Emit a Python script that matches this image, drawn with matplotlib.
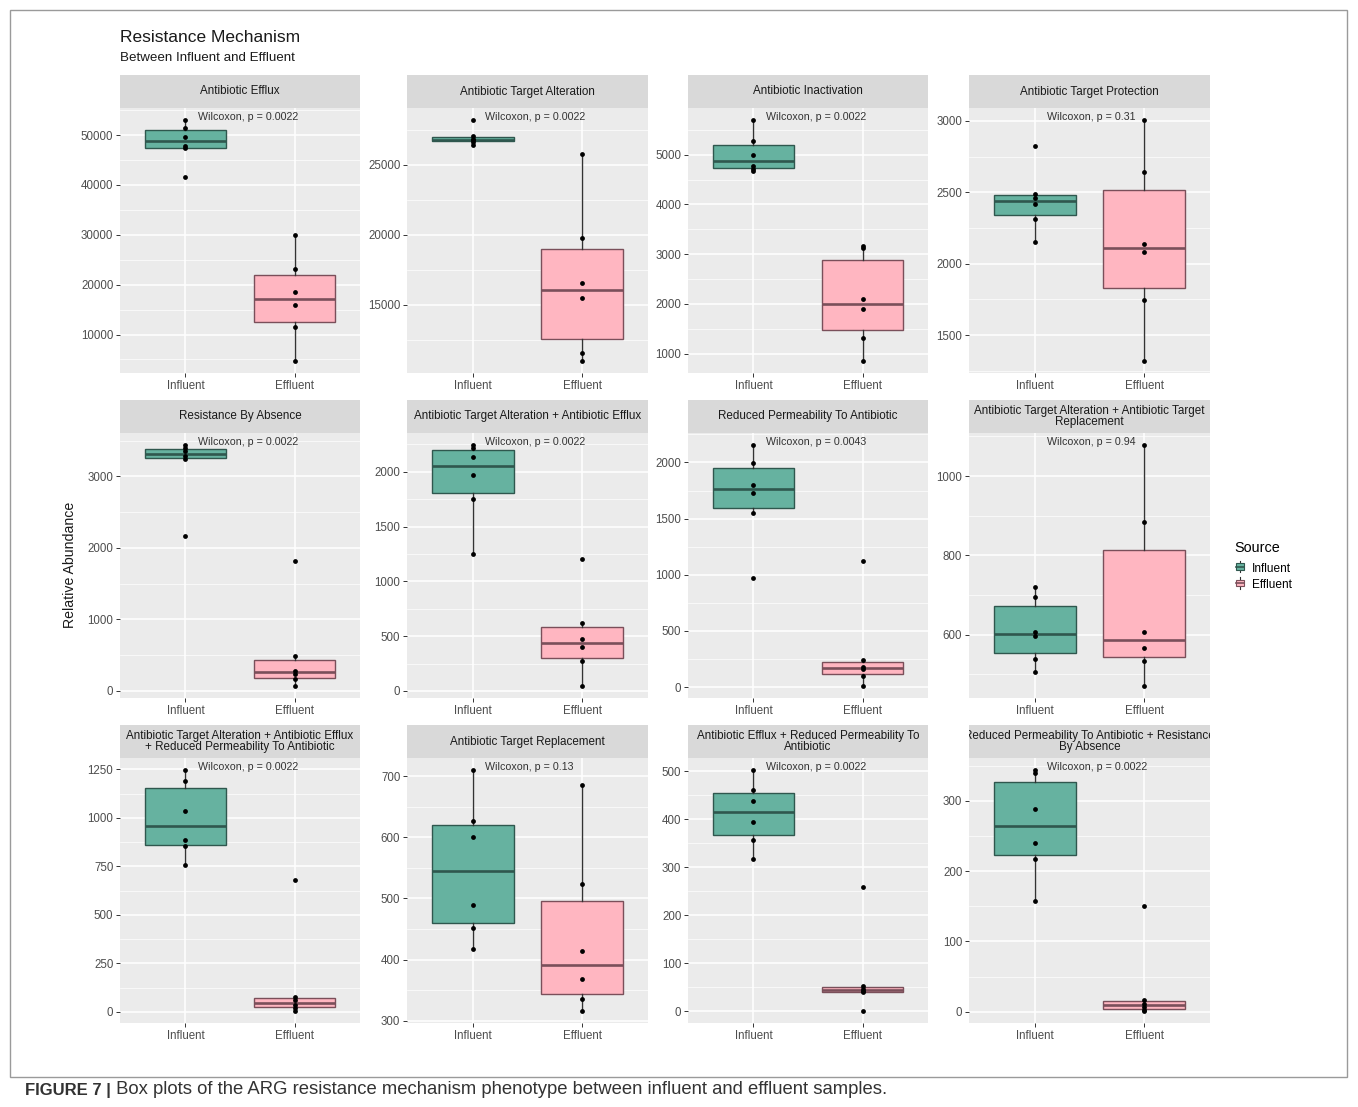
import numpy as np
import matplotlib.pyplot as plt
from matplotlib.patches import Rectangle
from matplotlib.lines import Line2D
from matplotlib.legend_handler import HandlerBase
from matplotlib.ticker import MultipleLocator, StrMethodFormatter

plt.rcParams['font.family'] = ['Liberation Sans', 'DejaVu Sans']

# relative abundance per resistance mechanism, six samples per source
mechanisms = [
    'Antibiotic Efflux',
    'Antibiotic Target Alteration',
    'Antibiotic Inactivation',
    'Antibiotic Target Protection',
    'Resistance By Absence',
    'Antibiotic Target Alteration + Antibiotic Efflux',
    'Reduced Permeability To Antibiotic',
    'Antibiotic Target Alteration + Antibiotic Target\nReplacement',
    'Antibiotic Target Alteration + Antibiotic Efflux\n+ Reduced Permeability To Antibiotic',
    'Antibiotic Target Replacement',
    'Antibiotic Efflux + Reduced Permeability To\nAntibiotic',
    'Reduced Permeability To Antibiotic + Resistance\nBy Absence',
]
influent = [
    [41500, 47400, 47700, 49700, 51500, 53000],
    [26400, 26650, 26750, 26850, 27050, 28200],
    [4670, 4720, 4770, 4990, 5270, 5700],
    [2150, 2310, 2420, 2460, 2485, 2820],
    [2170, 3240, 3290, 3350, 3400, 3440],
    [1250, 1755, 1967, 2136, 2215, 2245],
    [975, 1550, 1730, 1800, 1995, 2155],
    [506, 540, 596, 607, 694, 720],
    [755, 853, 884, 1034, 1191, 1246],
    [417, 451, 489, 600, 626, 710],
    [317, 357, 393, 437, 460, 502],
    [157, 217, 240, 288, 340, 344],
]
effluent = [
    [4700, 11500, 15900, 18500, 23200, 30000],
    [11000, 11600, 15500, 16600, 19800, 25800],
    [850, 1320, 1900, 2100, 3130, 3170],
    [1320, 1745, 2080, 2135, 2640, 3005],
    [70, 170, 240, 280, 490, 1820],
    [45, 273, 397, 470, 618, 1203],
    [10, 100, 160, 175, 240, 1120],
    [471, 535, 566, 608, 883, 1078],
    [5, 22, 36, 60, 76, 680],
    [316, 336, 368, 414, 524, 686],
    [1, 40, 43, 47, 52, 259],
    [1, 3, 7, 11, 17, 150],
]
p_values = ['0.0022', '0.0022', '0.0022', '0.31', '0.0022', '0.0022',
            '0.0043', '0.94', '0.0022', '0.13', '0.0022', '0.0022']
tick_steps = [10000, 5000, 1000, 500, 1000, 500, 500, 200, 250, 100, 100, 100]
sources = ['Influent', 'Effluent']

fills = {'Influent': '#66B2A0', 'Effluent': '#FFB6C1'}
edges = {'Influent': '#2F574E', 'Effluent': '#7A4F5A'}

W, H = 1358, 1107
fig = plt.figure(figsize=(W / 100, H / 100), dpi=100)


def px(x0, y0, w, h):
    return [x0 / W, 1 - (y0 + h) / H, w / W, h / H]


col_left = [120, 407, 688, 969]
col_width = [240, 241, 240, 241]
row_top = [75, 400, 725]
strip_h, panel_h = 33, 265

for i, name in enumerate(mechanisms):
    r, c = divmod(i, 4)
    x0, w = col_left[c], col_width[c]
    y0 = row_top[r]

    # facet strip
    sax = fig.add_axes(px(x0, y0, w, strip_h))
    sax.set_facecolor('#D9D9D9')
    sax.set_xticks([])
    sax.set_yticks([])
    for s in sax.spines.values():
        s.set_visible(False)
    sax.text(0.5, 0.5, name, ha='center', va='center', fontsize=8.4,
             color='#1A1A1A', linespacing=0.95, clip_on=True,
             transform=sax.transAxes)

    ax = fig.add_axes(px(x0, y0 + strip_h, w, panel_h))
    ax.set_facecolor('#EBEBEB')
    for s in ax.spines.values():
        s.set_visible(False)

    groups = [influent[i], effluent[i]]
    bp = ax.boxplot(groups, positions=[1, 2], widths=0.75, whis=1.5,
                    patch_artist=True, showfliers=False, showcaps=False,
                    zorder=2)
    for j, src in enumerate(sources):
        bp['boxes'][j].set(facecolor=fills[src], edgecolor=edges[src], linewidth=1.0)
        bp['medians'][j].set(color=edges[src], linewidth=1.9)
    for wl in bp['whiskers']:
        wl.set(color='#333333', linewidth=1.0)

    for j, vals in enumerate(groups):
        ax.scatter(np.full(len(vals), j + 1), vals, s=12, color='black',
                   zorder=4, linewidths=0)

    all_vals = np.concatenate(groups)
    lo, hi = all_vals.min(), all_vals.max()
    pad = 0.05 * (hi - lo)
    ax.set_ylim(lo - pad, hi + pad)
    ax.set_xlim(0.4, 2.6)
    ax.set_xticks([1, 2])
    ax.set_xticklabels(sources)

    step = tick_steps[i]
    ax.yaxis.set_major_locator(MultipleLocator(step))
    ax.yaxis.set_minor_locator(MultipleLocator(step / 2))
    ax.yaxis.set_major_formatter(StrMethodFormatter('{x:.0f}'))
    ax.grid(which='major', color='white', linewidth=1.1)
    ax.grid(which='minor', axis='y', color='white', linewidth=0.5)
    ax.set_axisbelow(True)
    ax.tick_params(which='major', length=2.8, width=0.7, color='#333333',
                   labelcolor='#4D4D4D', labelsize=8.3, pad=2)
    ax.tick_params(which='minor', length=0)

    ax.annotate(f'Wilcoxon, p = {p_values[i]}', xy=(1, hi), xytext=(9, 2),
                textcoords='offset points', ha='left', va='center',
                fontsize=7.7, color='#333333', zorder=5)

# titles and shared axis label
fig.text(120 / W, 1 - 37 / H, 'Resistance Mechanism', fontsize=12.5,
         color='#1A1A1A', ha='left', va='center')
fig.text(120 / W, 1 - 58 / H, 'Between Influent and Effluent', fontsize=9.6,
         color='#1A1A1A', ha='left', va='center')
fig.text(70 / W, 1 - 565 / H, 'Relative Abundance', fontsize=10.2,
         color='#1A1A1A', ha='center', va='center', rotation=90)


class BoxKey(HandlerBase):
    def create_artists(self, legend, orig, xd, yd, w, h, fontsize, trans):
        fc = orig.get_facecolor()
        ec = orig.get_edgecolor()
        cx = xd + w / 2
        whisk = Line2D([cx, cx], [yd - h * 0.1, yd + h * 1.1], color='#333333',
                       lw=0.8, transform=trans)
        box = Rectangle((xd + w * 0.1, yd + h * 0.15), w * 0.8, h * 0.7,
                        facecolor=fc, edgecolor=ec, lw=0.8, transform=trans)
        med = Line2D([xd + w * 0.1, xd + w * 0.9], [yd + h / 2] * 2, color=ec,
                     lw=1.2, transform=trans)
        return [whisk, box, med]


handles = [Rectangle((0, 0), 1, 1, facecolor=fills[s], edgecolor=edges[s])
           for s in sources]
leg = fig.legend(handles, sources, title='Source', loc='upper left',
                 bbox_to_anchor=(1224 / W, 1 - 530 / H), frameon=False,
                 handler_map={Rectangle: BoxKey()}, fontsize=8.6,
                 title_fontsize=10.4, handlelength=0.85, handleheight=0.85,
                 handletextpad=0.6, labelspacing=0.35, alignment='left')
leg._legend_box.sep = 6

# outer frame and caption
overlay = fig.add_axes([0, 0, 1, 1], facecolor='none')
overlay.set_xlim(0, W)
overlay.set_ylim(H, 0)
overlay.axis('off')
overlay.add_patch(Rectangle((10, 10), 1337, 1067, fill=False,
                            edgecolor='#9A9A9A', linewidth=1.0))
t1 = overlay.text(25, 1090, 'FIGURE 7 |', fontsize=12, fontweight='bold',
                  color='#333333', ha='left', va='center')
overlay.annotate(' Box plots of the ARG resistance mechanism phenotype between '
                 'influent and effluent samples.', xy=(1, 0.5), xycoords=t1,
                 ha='left', va='center', fontsize=13.3, color='#333333')

fig.savefig('out.png', dpi=100)
